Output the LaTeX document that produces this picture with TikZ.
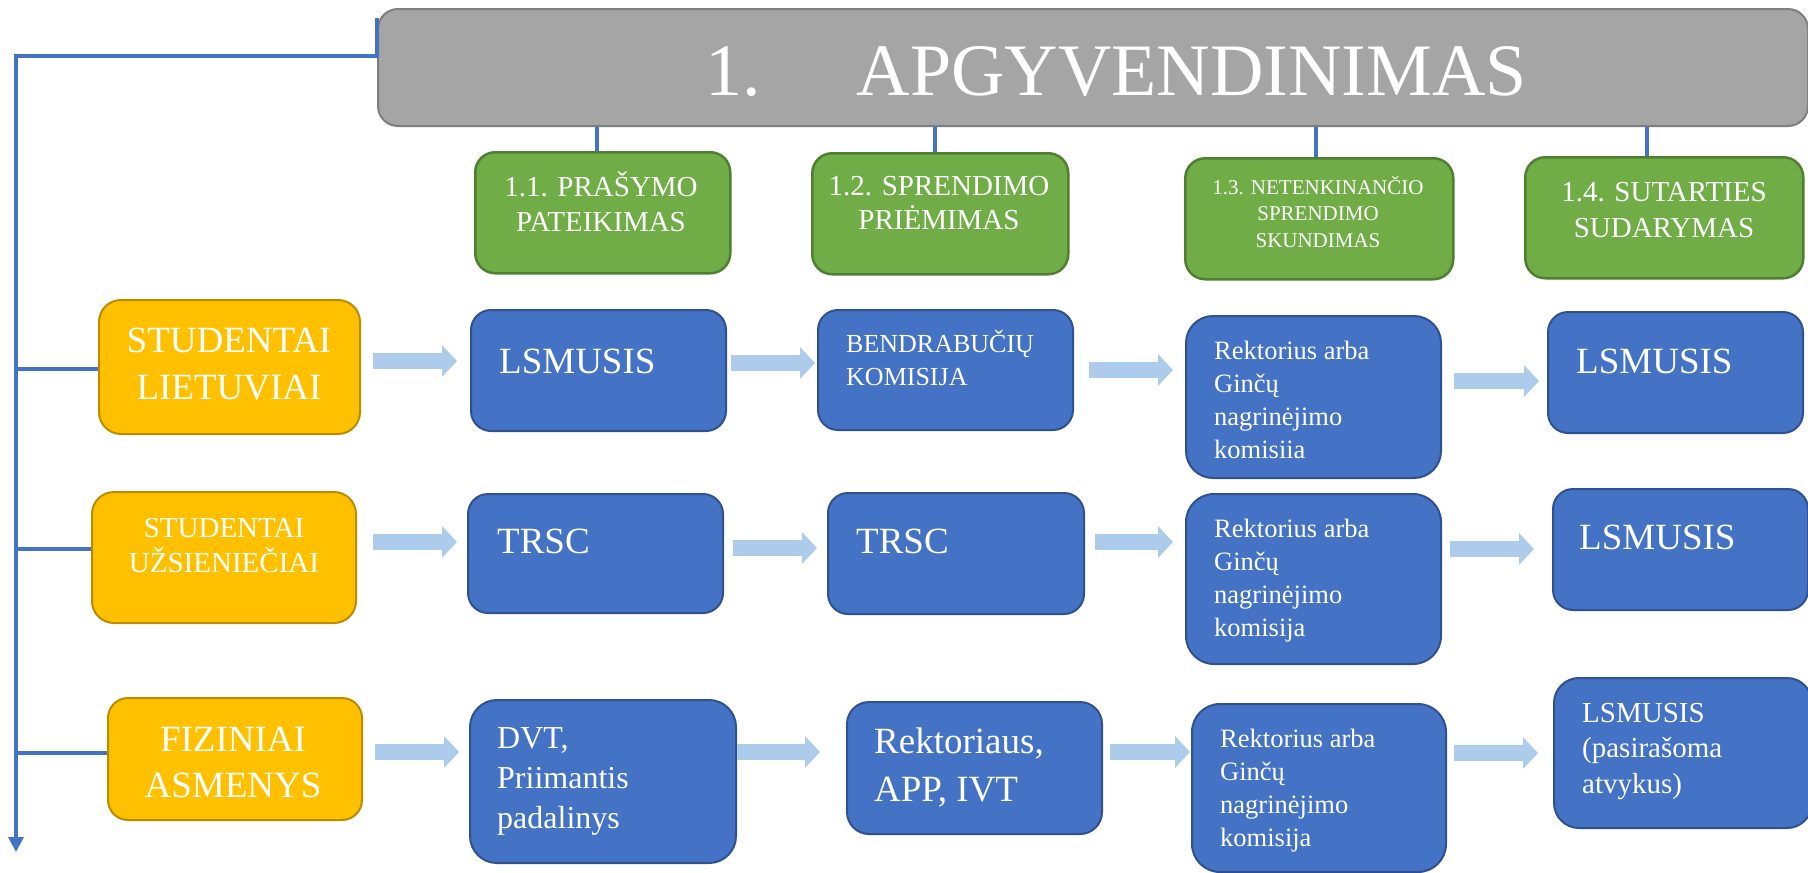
\documentclass[tikz,border=0pt]{standalone}
\usepackage{fontspec}
\setmainfont{Liberation Serif}
\usetikzlibrary{arrows.meta,calc}
\definecolor{tfill}{HTML}{A5A5A5}
\definecolor{tline}{HTML}{7F7F7F}
\definecolor{gfill}{HTML}{70AD47}
\definecolor{gline}{HTML}{507E32}
\definecolor{ofill}{HTML}{FFC000}
\definecolor{oline}{HTML}{BC8C00}
\definecolor{bfill}{HTML}{4472C4}
\definecolor{bline}{HTML}{2F528F}
\definecolor{afill}{HTML}{ADCBEA}
\definecolor{cline}{HTML}{4472C4}
\newcommand\myleft[2]{\parbox[t]{#1}{\raggedright #2}}
\newcommand\mycenter[2]{\parbox[t]{#1}{\centering #2}}
\begin{document}
\begin{tikzpicture}[x=1pt,y=-1pt,
  boxbase/.style={inner sep=0pt, anchor=north west, line width=2pt},
  titlebox/.style={boxbase, fill=tfill, draw=tline},
  gbox/.style={boxbase, fill=gfill, draw=gline, line width=2.5pt, rounded corners=20pt},
  obox/.style={boxbase, fill=ofill, draw=oline, rounded corners=22pt},
  bbox/.style={boxbase, fill=bfill, draw=bline, rounded corners=20pt},
  lt/.style={inner sep=0pt, anchor=base west, text=white},
  ct/.style={inner sep=0pt, anchor=base, text=white},
  conn/.style={draw=cline, line width=3.5pt},
  barrow/.style={draw=afill, line width=16pt, -{Triangle[length=15pt,width=31pt]}},
]
\useasboundingbox (0,0) rectangle (1808,873);
\fill[white] (0,0) rectangle (1808,873);

% title
\node[titlebox, rounded corners=20pt, minimum width=1430pt, minimum height=117pt] (title) at (377,8) {};
\node[lt, font=\fontsize{74}{88}\selectfont] (ttl) at (705,95) {1.\hspace{96pt}APGYVENDINIMAS};

% green headers
\node[gbox, minimum width=255pt, minimum height=121pt] (g1) at (474,151) {};
\node[gbox, minimum width=256pt, minimum height=121pt] (g2) at (811,152) {};
\node[gbox, minimum width=268pt, minimum height=121pt] (g3) at (1184,157) {};
\node[gbox, minimum width=278pt, minimum height=121pt] (g4) at (1524,156) {};
\node[ct, font=\fontsize{29}{35}\selectfont] (tg1) at (601,196) {\mycenter{250pt}{1.1. PRAŠYMO\\PATEIKIMAS}};
\node[ct, font=\fontsize{29}{34}\selectfont] (tg2) at (939,195) {\mycenter{250pt}{1.2. SPRENDIMO\\PRIĖMIMAS}};
\node[ct, font=\fontsize{21}{26.5}\selectfont] (tg3) at (1318,194) {\mycenter{260pt}{1.3. NETENKINANČIO\\SPRENDIMO\\SKUNDIMAS}};
\node[ct, font=\fontsize{29}{36}\selectfont] (tg4) at (1664,201) {\mycenter{270pt}{1.4. SUTARTIES\\SUDARYMAS}};

% orange
\node[obox, minimum width=261pt, minimum height=134pt] (sl) at (98,299) {};
\node[obox, minimum width=264pt, minimum height=131pt] (su) at (91,491) {};
\node[obox, rounded corners=20pt, minimum width=254pt, minimum height=122pt] (fa) at (107,697) {};
\node[ct, font=\fontsize{37}{47}\selectfont] (tsl) at (229,352) {\mycenter{255pt}{STUDENTAI\\LIETUVIAI}};
\node[ct, font=\fontsize{29}{35}\selectfont] (tsu) at (224,537) {\mycenter{255pt}{STUDENTAI\\UŽSIENIEČIAI}};
\node[ct, font=\fontsize{37}{46}\selectfont] (tfa) at (233,751) {\mycenter{250pt}{FIZINIAI\\ASMENYS}};

% blue row 1
\node[bbox, minimum width=255pt, minimum height=121pt] (b11) at (470,309) {};
\node[bbox, minimum width=255pt, minimum height=120pt] (b12) at (817,309) {};
\node[bbox, rounded corners=27pt, minimum width=255pt, minimum height=162pt] (b13) at (1185,315) {};
\node[bbox, minimum width=255pt, minimum height=121pt] (b14) at (1547,311) {};
% blue row 2
\node[bbox, minimum width=255pt, minimum height=119pt] (b21) at (467,493) {};
\node[bbox, minimum width=256pt, minimum height=121pt] (b22) at (827,492) {};
\node[bbox, rounded corners=28pt, minimum width=255pt, minimum height=170pt] (b23) at (1185,493) {};
\node[bbox, minimum width=255pt, minimum height=121pt] (b24) at (1552,488) {};
% blue row 3
\node[bbox, rounded corners=27pt, minimum width=266pt, minimum height=163pt] (b31) at (469,699) {};
\node[bbox, rounded corners=22pt, minimum width=255pt, minimum height=132pt] (b32) at (846,701) {};
\node[bbox, rounded corners=28pt, minimum width=254pt, minimum height=168pt] (b33) at (1191,703) {};
\node[bbox, rounded corners=25pt, minimum width=258pt, minimum height=150pt] (b34) at (1553,677) {};

% blue texts
\node[lt, font=\fontsize{37}{47}\selectfont] (t11) at (499,373) {\myleft{220pt}{LSMUSIS}};
\node[lt, font=\fontsize{26}{33}\selectfont] (t12) at (846,352) {\myleft{220pt}{BENDRABUČIŲ\\KOMISIJA}};
\node[lt, font=\fontsize{26.5}{33}\selectfont] (t13) at (1214,359) {\myleft{220pt}{Rektorius arba\\Ginčų\\nagrinėjimo\\komisiia}};
\node[lt, font=\fontsize{37}{47}\selectfont] (t14) at (1576,373) {\myleft{220pt}{LSMUSIS}};
\node[lt, font=\fontsize{37}{47}\selectfont] (t21) at (497,553) {\myleft{220pt}{TRSC}};
\node[lt, font=\fontsize{37}{47}\selectfont] (t22) at (856,553) {\myleft{220pt}{TRSC}};
\node[lt, font=\fontsize{26.5}{33}\selectfont] (t23) at (1214,537) {\myleft{220pt}{Rektorius arba\\Ginčų\\nagrinėjimo\\komisija}};
\node[lt, font=\fontsize{37}{47}\selectfont] (t24) at (1579,549) {\myleft{220pt}{LSMUSIS}};
\node[lt, font=\fontsize{32}{40}\selectfont] (t31) at (497,748) {\myleft{230pt}{DVT,\\Priimantis\\padalinys}};
\node[lt, font=\fontsize{37}{48}\selectfont] (t32) at (874,753) {\myleft{220pt}{Rektoriaus,\\APP, IVT}};
\node[lt, font=\fontsize{26.5}{33}\selectfont] (t33) at (1220,747) {\myleft{220pt}{Rektorius arba\\Ginčų\\nagrinėjimo\\komisija}};
\node[lt, font=\fontsize{29}{35.5}\selectfont] (t34) at (1582,722) {\myleft{220pt}{LSMUSIS\\(pasirašoma\\atvykus)}};

% connectors
\coordinate (spine) at (16,56);
\coordinate (spineend) at (16,852);
\draw[conn, -{Triangle[length=15pt,width=15pt]}] ([yshift=-10pt]title.north west) -- (title.north west |- spine) -- (spine) -- (spineend);
\draw[conn] (spine |- 0,369) -- (sl.west |- 0,369);
\draw[conn] (spine |- 0,549) -- (su.west |- 0,549);
\draw[conn] (spine |- 0,753) -- (fa.west |- 0,753);
\draw[conn] (597,0 |- title.south) -- (597,0 |- g1.north);
\draw[conn] (935,0 |- title.south) -- (935,0 |- g2.north);
\draw[conn] (1316,0 |- title.south) -- (1316,0 |- g3.north);
\draw[conn] (1647,0 |- title.south) -- (1647,0 |- g4.north);

% block arrows
\draw[barrow] ([xshift=12pt]sl.east |- 0,361) -- ([xshift=-13pt]b11.west |- 0,361);
\draw[barrow] ([xshift=4pt]b11.east |- 0,363) -- ([xshift=-2pt]b12.west |- 0,363);
\draw[barrow] ([xshift=15pt]b12.east |- 0,370) -- ([xshift=-12pt]b13.west |- 0,370);
\draw[barrow] ([xshift=12pt]b13.east |- 0,381) -- ([xshift=-8pt]b14.west |- 0,381);
\draw[barrow] ([xshift=16pt]su.east |- 0,542) -- ([xshift=-10pt]b21.west |- 0,542);
\draw[barrow] ([xshift=9pt]b21.east |- 0,548) -- ([xshift=-10pt]b22.west |- 0,548);
\draw[barrow] ([xshift=10pt]b22.east |- 0,542) -- ([xshift=-12pt]b23.west |- 0,542);
\draw[barrow] ([xshift=8pt]b23.east |- 0,549) -- ([xshift=-18pt]b24.west |- 0,549);
\draw[barrow] ([xshift=12pt]fa.east |- 0,752) -- ([xshift=-10pt]b31.west |- 0,752);
\draw[barrow] ([xshift=0pt]b31.east |- 0,752) -- ([xshift=-26pt]b32.west |- 0,752);
\draw[barrow] ([xshift=7pt]b32.east |- 0,752) -- ([xshift=-1pt]b33.west |- 0,752);
\draw[barrow] ([xshift=7pt]b33.east |- 0,753) -- ([xshift=-15pt]b34.west |- 0,753);
\end{tikzpicture}
\end{document}
